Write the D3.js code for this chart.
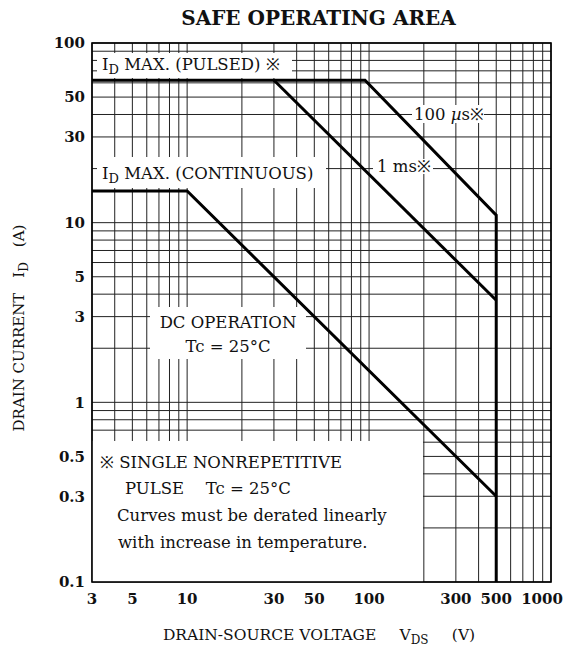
<!DOCTYPE html>
<html>
<head>
<meta charset="utf-8" />
<title>Safe Operating Area</title>
<script src="https://cdn.jsdelivr.net/npm/d3@7/dist/d3.min.js"></script>
<style>
  body { margin: 0; background: #fff; }
  svg text { font-family: "DejaVu Serif", "Liberation Serif", serif; fill: #111; }
  .tick-label { font-size: 15px; font-weight: bold; }
  .note { font-size: 16.5px; }
  .grid line { stroke: #222; stroke-width: 1; }
  .limit { fill: none; stroke: #000; stroke-width: 3; stroke-linejoin: miter; }
</style>
</head>
<body>
<svg width="568" height="649"></svg>
<script>
// values
var voltTicks = [3, 5, 10, 30, 50, 100, 300, 500, 1000];
var currTicks = [100, 50, 30, 10, 5, 3, 1, 0.5, 0.3, 0.1];
var pulsedLimit = [[3, 62], [95, 62], [500, 11], [500, 0.1]];   // Id max pulsed + 100 us + Vdss
var oneMsLimit = [[30, 62], [500, 3.7]];
var dcLimit = [[3, 15], [10, 15], [500, 0.3]];

var svg = d3.select('svg'),
    margin = { left: 92, right: 17, top: 43, bottom: 67 },
    width = +svg.attr('width') - margin.left - margin.right,
    height = +svg.attr('height') - margin.top - margin.bottom;

var x = d3.scaleLog().domain([3, 1000]).range([0, width]);
var y = d3.scaleLog().domain([0.1, 100]).range([height, 0]);

var g = svg.append('g')
    .attr('transform', 'translate(' + margin.left + ',' + margin.top + ')');

// log grid
var grid = g.append('g').attr('class', 'grid');
grid.selectAll('.vx').data(x.ticks()).enter().append('line')
    .attr('x1', x).attr('x2', x).attr('y1', 0).attr('y2', height);
grid.selectAll('.hy').data(y.ticks()).enter().append('line')
    .attr('y1', y).attr('y2', y).attr('x1', 0).attr('x2', width);

// white label boxes that break the grid (pixels inside plot area)
var boxes = [
    { x0: 5, y0: 10, x1: 200, y1: 35 },     // Id max pulsed
    { x0: 5, y0: 114, x1: 234, y1: 145 },   // Id max continuous
    { x0: 320, y0: 62, x1: 392, y1: 80 },   // 100 us
    { x0: 281, y0: 116, x1: 341, y1: 131 }, // 1 ms
    { x0: 58, y0: 264, x1: 214, y1: 316 },  // DC operation
    { x0: 0, y0: 398, x1: 331, y1: height } // note
];
g.selectAll('.box').data(boxes).enter().append('rect')
    .attr('x', function(d) { return d.x0; })
    .attr('y', function(d) { return d.y0; })
    .attr('width', function(d) { return d.x1 - d.x0; })
    .attr('height', function(d) { return d.y1 - d.y0; })
    .attr('fill', '#fff');

// limit curves
var line = d3.line()
    .x(function(d) { return x(d[0]); })
    .y(function(d) { return y(d[1]); });
[pulsedLimit, oneMsLimit, dcLimit].forEach(function(s) {
    g.append('path').attr('class', 'limit').attr('d', line(s));
});

// frame
g.append('rect')
    .attr('width', width).attr('height', height)
    .attr('fill', 'none').attr('stroke', '#000').attr('stroke-width', 1.6);

// axes labels
g.selectAll('.xt').data(voltTicks).enter().append('text')
    .attr('class', 'tick-label')
    .attr('x', function(d) { return Math.min(x(d), width - 9); })
    .attr('y', height + 22)
    .attr('text-anchor', 'middle')
    .text(function(d) { return d; });
g.selectAll('.yt').data(currTicks).enter().append('text')
    .attr('class', 'tick-label')
    .attr('x', -7).attr('y', y).attr('dy', '0.35em')
    .attr('text-anchor', 'end')
    .text(function(d) { return d; });

// title
svg.append('text')
    .attr('x', margin.left + width / 2 - 3).attr('y', 25)
    .attr('text-anchor', 'middle')
    .style('font-size', '20px').style('font-weight', 'bold')
    .text('SAFE OPERATING AREA');

// axis titles
var xt = svg.append('text')
    .attr('x', 319).attr('y', 640)
    .attr('text-anchor', 'middle')
    .style('font-size', '15.5px');
xt.append('tspan').text('DRAIN-SOURCE VOLTAGE\u2003\u2002V');
xt.append('tspan').attr('dy', 4).style('font-size', '12px').text('DS');
xt.append('tspan').attr('dy', -4).text('\u2003\u2002(V)');

var yt = svg.append('text')
    .attr('transform', 'translate(24,' + 328 + ') rotate(-90)')
    .attr('text-anchor', 'middle')
    .style('font-size', '15px');
yt.append('tspan').text('DRAIN CURRENT\u2003I');
yt.append('tspan').attr('dy', 4).style('font-size', '12px').text('D');
yt.append('tspan').attr('dy', -4).text('\u2003(A)');

// annotations
function idLabel(txt, px, py) {
    var t = g.append('text').attr('class', 'note').attr('x', px).attr('y', py);
    t.append('tspan').text('I');
    t.append('tspan').attr('dy', 4).style('font-size', '13px').text('D');
    t.append('tspan').attr('dy', -4).text(' ' + txt);
}
idLabel('MAX. (PULSED) \u203B', 10, 27);
idLabel('MAX. (CONTINUOUS)', 10, 136);

var us = g.append('text').attr('class', 'note').attr('x', 322).attr('y', 77);
us.append('tspan').text('100 ');
us.append('tspan').style('font-style', 'italic').text('\u00B5');
us.append('tspan').text('s\u203B');
g.append('text').attr('class', 'note').attr('x', 285).attr('y', 129).text('1 ms\u203B');

g.append('text').attr('class', 'note').attr('x', 136).attr('y', 285)
    .attr('text-anchor', 'middle').text('DC OPERATION');
g.append('text').attr('class', 'note').attr('x', 136).attr('y', 309)
    .attr('text-anchor', 'middle').text('Tc = 25\u00B0C');

var notes = [
    { t: '\u203B SINGLE NONREPETITIVE', dx: 8, dy: 425 },
    { t: 'PULSE\u2003 Tc = 25\u00B0C', dx: 33, dy: 451 },
    { t: 'Curves must be derated linearly', dx: 25, dy: 478 },
    { t: 'with increase in temperature.', dx: 26, dy: 505 }
];
g.selectAll('.nt').data(notes).enter().append('text')
    .attr('class', 'note')
    .attr('x', function(d) { return d.dx; })
    .attr('y', function(d) { return d.dy; })
    .text(function(d) { return d.t; });
</script>
</body>
</html>
